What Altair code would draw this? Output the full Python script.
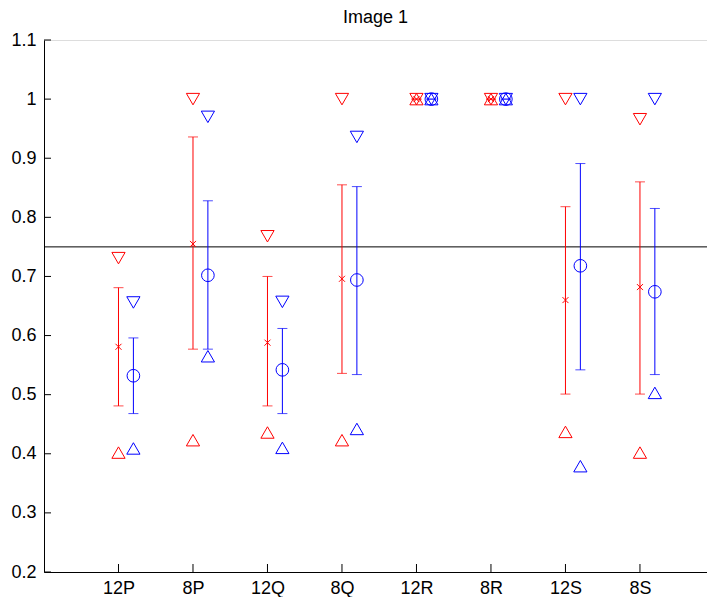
import altair as alt
import pandas as pd

categories = ["12P", "8P", "12Q", "8Q", "12R", "8R", "12S", "8S"]

red_mean = [0.581, 0.755, 0.588, 0.696, 1.0, 1.0, 0.660, 0.682]
red_lo = [0.481, 0.577, 0.481, 0.536, 1.0, 1.0, 0.501, 0.501]
red_hi = [0.681, 0.936, 0.700, 0.855, 1.0, 1.0, 0.818, 0.860]
red_min = [0.402, 0.423, 0.436, 0.423, 1.0, 1.0, 0.437, 0.402]
red_max = [0.731, 1.0, 0.768, 1.0, 1.0, 1.0, 1.0, 0.966]

blue_mean = [0.532, 0.702, 0.542, 0.694, 1.0, 1.0, 0.718, 0.674]
blue_lo = [0.468, 0.577, 0.468, 0.534, 1.0, 1.0, 0.542, 0.534]
blue_hi = [0.596, 0.828, 0.612, 0.852, 1.0, 1.0, 0.891, 0.815]
blue_min = [0.409, 0.565, 0.410, 0.442, 1.0, 1.0, 0.379, 0.503]
blue_max = [0.656, 0.970, 0.657, 0.936, 1.0, 1.0, 1.0, 1.0]

threshold = 0.75
y_ticks = [0.2, 0.3, 0.4, 0.5, 0.6, 0.7, 0.8, 0.9, 1.0, 1.1]
title_text = "Image 1"

W, H = 663, 532
XMAX = 8.9
FONT = "Liberation Sans"
FS = 18

xs = alt.Scale(domain=[0, XMAX], nice=False, zero=False)
ys = alt.Scale(domain=[0.2, 1.1], nice=False, zero=False)

label_list = "[" + ",".join('"%s"' % c for c in categories) + "]"
X_AX = alt.Axis(values=list(range(1, len(categories) + 1)), labelExpr=label_list + "[datum.value-1]",
                ticks=False, title=None, grid=False, labelPadding=7, labelFontSize=FS,
                domainColor="black", labelColor="black", labelFont=FONT)
Y_AX = alt.Axis(values=y_ticks, format=".1~f", ticks=False, title=None, grid=False,
                labelPadding=8, labelFontSize=FS, domainColor="black", labelColor="black",
                labelFont=FONT)


def series_df(mean, lo, hi, mn, mx, offset):
    return pd.DataFrame({
        "x": [i + 1 + offset for i in range(len(categories))],
        "mean": mean, "lo": lo, "hi": hi, "mn": mn, "mx": mx,
    })


red = series_df(red_mean, red_lo, red_hi, red_min, red_max, 0.0)
blue = series_df(blue_mean, blue_lo, blue_hi, blue_min, blue_max, 0.2)

XMARK = "M-1,-1L1,1M-1,1L1,-1"


def layers(df, color, center_shape, center_size):
    base = alt.Chart(df)
    X = alt.X("x:Q", scale=xs, axis=X_AX)
    bars = base.mark_rule(color=color, strokeWidth=1).encode(
        x=X, y=alt.Y("lo:Q", scale=ys, axis=Y_AX), y2="hi:Q")
    cap_lo = base.mark_tick(color=color, orient="horizontal", size=10, thickness=1).encode(
        x=X, y=alt.Y("lo:Q", scale=ys, axis=Y_AX))
    cap_hi = base.mark_tick(color=color, orient="horizontal", size=10, thickness=1).encode(
        x=X, y=alt.Y("hi:Q", scale=ys, axis=Y_AX))
    center = base.mark_point(shape=center_shape, size=center_size, filled=False, color=color,
                             strokeWidth=1, opacity=1).encode(
        x=X, y=alt.Y("mean:Q", scale=ys, axis=Y_AX))
    tmax = base.mark_point(shape="triangle-down", size=175, filled=False, color=color,
                           strokeWidth=1, opacity=1).encode(
        x=X, y=alt.Y("mx:Q", scale=ys, axis=Y_AX))
    tmin = base.mark_point(shape="triangle-up", size=175, filled=False, color=color,
                           strokeWidth=1, opacity=1).encode(
        x=X, y=alt.Y("mn:Q", scale=ys, axis=Y_AX))
    return [bars, cap_lo, cap_hi, center, tmax, tmin]


thr = alt.Chart(pd.DataFrame({"y": [threshold]})).mark_rule(color="black", strokeWidth=1).encode(
    y=alt.Y("y:Q", scale=ys, axis=Y_AX))

xticks = alt.Chart(pd.DataFrame({"t": list(range(1, len(categories) + 1))})).mark_rule(
    color="black", strokeWidth=1).encode(
    x=alt.X("t:Q", scale=xs, axis=X_AX), y=alt.value(H), y2=alt.value(H - 8))

yticks = alt.Chart(pd.DataFrame({"v": y_ticks})).mark_rule(color="black", strokeWidth=1).encode(
    y=alt.Y("v:Q", scale=ys, axis=Y_AX), x=alt.value(0), x2=alt.value(7))

all_layers = [thr, xticks, yticks] + layers(red, "#ff0000", XMARK, 36) + layers(blue, "#0000ff", "circle", 160)

chart = alt.layer(*all_layers).properties(
    width=W, height=H,
    title=alt.Title(title_text, fontSize=FS, fontWeight="normal", font=FONT, color="black", offset=4),
    autosize=alt.AutoSizeParams(type="none"),
    padding={"left": 36, "top": 32, "right": 0, "bottom": 25},
).configure_view(stroke=None).configure(background="white")

chart.save("out.html", embed_options={"renderer": "svg", "actions": False})
